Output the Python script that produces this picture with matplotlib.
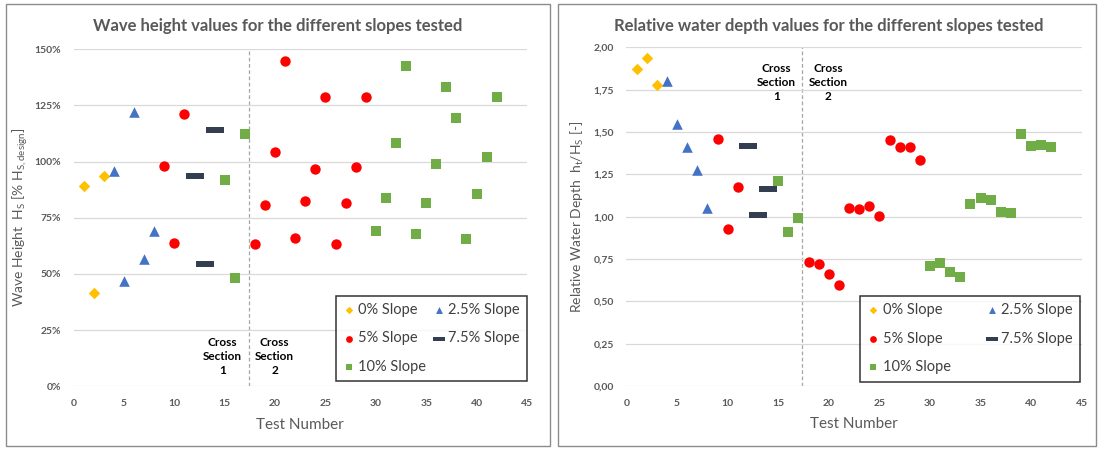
import matplotlib
matplotlib.use("Agg")
import matplotlib.pyplot as plt
from matplotlib.patches import Rectangle
from matplotlib.ticker import FuncFormatter, MultipleLocator

plt.rcParams["font.family"] = ["Lato", "DejaVu Sans"]
plt.rcParams["mathtext.default"] = "regular"

# ---- data: wave height (% Hs,design) ----
wh_x0 = [1, 2, 3]
wh_y0 = [89, 41.7, 93.5]
wh_x25 = [4, 5, 6, 7, 8]
wh_y25 = [96, 46.7, 122, 56.7, 69]
wh_x5 = [9, 10, 11, 18, 19, 20, 21, 22, 23, 24, 25, 26, 27, 28, 29]
wh_y5 = [98.1, 64, 121.4, 63.5, 80.5, 104.2, 144.8, 66.1, 82.3, 96.7, 128.9, 63.5, 81.4, 97.8, 128.6]
wh_x75 = [12, 13, 14]
wh_y75 = [93.6, 54.6, 114.1]
wh_x10 = [15, 16, 17, 30, 31, 32, 33, 34, 35, 36, 37, 38, 39, 40, 41, 42]
wh_y10 = [91.7, 48.4, 112.4, 69, 83.8, 108.5, 142.4, 67.9, 81.7, 99, 133.2, 119.2, 65.5, 85.4, 102.1, 128.6]

# ---- data: relative water depth ht/Hs ----
rd_x0 = [1, 2, 3]
rd_y0 = [1.874, 1.935, 1.776]
rd_x25 = [4, 5, 6, 7, 8]
rd_y25 = [1.803, 1.547, 1.411, 1.278, 1.049]
rd_x5 = [9, 10, 11, 18, 19, 20, 21, 22, 23, 24, 25, 26, 27, 28, 29]
rd_y5 = [1.459, 0.928, 1.177, 0.732, 0.718, 0.663, 0.598, 1.051, 1.047, 1.065, 1.002, 1.455, 1.411, 1.411, 1.337]
rd_x75 = [12, 13, 14]
rd_y75 = [1.415, 1.010, 1.161]
rd_x10 = [15, 16, 17, 30, 31, 32, 33, 34, 35, 36, 37, 38, 39, 40, 41, 42]
rd_y10 = [1.211, 0.912, 0.992, 0.711, 0.726, 0.675, 0.645, 1.077, 1.112, 1.100, 1.026, 1.022, 1.488, 1.417, 1.421, 1.411]

section_split = 17.4
slope_labels = ["0% Slope", "2.5% Slope", "5% Slope", "7.5% Slope", "10% Slope"]

GRAY = "#595959"
DASH = [(-1.3, -0.42), (1.3, -0.42), (1.3, 0.42), (-1.3, 0.42), (-1.3, -0.42)]
STYLES = [
    dict(marker="D", color="#FFC000", s=34),
    dict(marker="^", color="#4472C4", s=58),
    dict(marker="o", color="#FF0000", s=56),
    dict(marker=DASH, color="#333F50", s=150),
    dict(marker="s", color="#70AD47", s=48),
]


def draw_panel(fig, ax, series, ymax, ystep, fmt, title, title_x, ylabel, ylabel_x,
               cs_y, leg_anchor, colsp):
    handles = []
    for (xs, ys), st, lab in zip(series, STYLES, slope_labels):
        h = ax.scatter(xs, ys, marker=st["marker"], color=st["color"], s=st["s"],
                       linewidths=0, zorder=3, label=lab)
        handles.append(h)
    ax.axvline(section_split, color="#A6A6A6", linestyle=(0, (3, 2)), linewidth=0.9, zorder=1)
    ax.set_xlim(0, 45)
    ax.set_ylim(0, ymax)
    ax.xaxis.set_major_locator(MultipleLocator(5))
    ax.yaxis.set_major_locator(MultipleLocator(ystep))
    ax.yaxis.set_major_formatter(FuncFormatter(fmt))
    ax.grid(axis="y", color="#D9D9D9", linewidth=0.9, zorder=0)
    for sp in ax.spines.values():
        sp.set_visible(False)
    ax.tick_params(length=0, labelsize=7.5, labelcolor=GRAY, pad=9)
    for lab in ax.get_xticklabels() + ax.get_yticklabels():
        lab.set_fontweight("bold")
    ax.set_xlabel("Test Number", fontsize=11, color=GRAY, labelpad=7)
    ax.set_ylabel(ylabel, fontsize=10, color=GRAY)
    ax.yaxis.set_label_coords(ylabel_x, 0.5)
    fig.text(title_x, 1 - 26 / 450, title, ha="center", va="center", fontsize=12,
             fontweight="bold", color=GRAY)
    ax.text(14.8, cs_y, "Cross\nSection\n1", ha="center", va="center", fontsize=8.5,
            fontweight="bold", linespacing=1.35, zorder=4)
    ax.text(19.95, cs_y, "Cross\nSection\n2", ha="center", va="center", fontsize=8.5,
            fontweight="bold", linespacing=1.35, zorder=4)
    order = [0, 2, 4, 1, 3]
    leg = ax.legend([handles[i] for i in order], [slope_labels[i] for i in order], ncol=2,
                    loc="lower right", bbox_to_anchor=leg_anchor,
                    fontsize=10.5, frameon=True, fancybox=False, borderpad=0.5,
                    labelspacing=1.0, handletextpad=0.25, handlelength=0.8,
                    columnspacing=colsp, labelcolor="#404040", markerscale=0.65,
                    borderaxespad=0)
    leg.get_frame().set_edgecolor("black")
    leg.get_frame().set_linewidth(1.1)
    leg.set_zorder(5)


fig = plt.figure(figsize=(11, 4.5), dpi=100)

# panel borders
fig.patches.append(Rectangle((6 / 1100, 4 / 450), 544 / 1100, 442 / 450, transform=fig.transFigure,
                             fill=False, edgecolor="#8C8C8C", linewidth=1.0))
fig.patches.append(Rectangle((558 / 1100, 4 / 450), 538 / 1100, 442 / 450, transform=fig.transFigure,
                             fill=False, edgecolor="#8C8C8C", linewidth=1.0))

ax1 = fig.add_axes([0.067, 0.1415, 0.412, 0.749])
draw_panel(
    fig, ax1,
    [(wh_x0, wh_y0), (wh_x25, wh_y25), (wh_x5, wh_y5), (wh_x75, wh_y75), (wh_x10, wh_y10)],
    150, 25, lambda v, p: f"{v:.0f}%",
    "Wave height values for the different slopes tested", 278 / 1100,
    "Wave Height  H$_S$ [% H$_{S,design}$]", -0.097,
    13.4, (1.0, 0.015), 0.45,
)

ax2 = fig.add_axes([0.5695, 0.1422, 0.4139, 0.7526])
draw_panel(
    fig, ax2,
    [(rd_x0, rd_y0), (rd_x25, rd_y25), (rd_x5, rd_y5), (rd_x75, rd_y75), (rd_x10, rd_y10)],
    2.0, 0.25, lambda v, p: f"{v:.2f}".replace(".", ","),
    "Relative water depth values for the different slopes tested", 829 / 1100,
    "Relative Water Depth  h$_t$/H$_S$ [-]", -0.088,
    1.792, (0.996, 0.013), 2.4,
)

fig.savefig("out.png", dpi=100)
